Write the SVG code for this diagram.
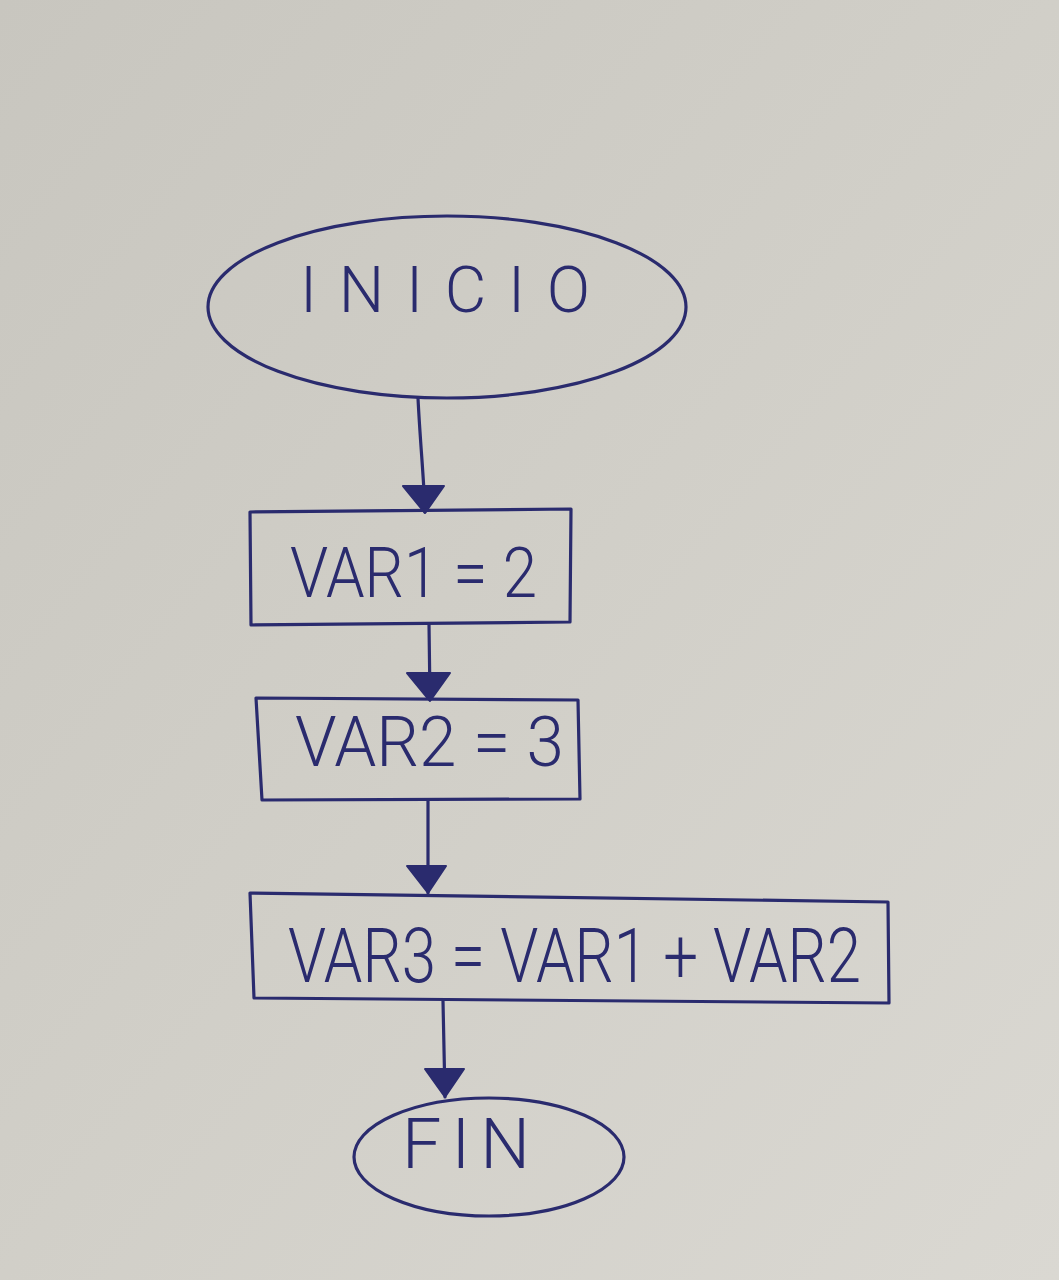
<svg xmlns="http://www.w3.org/2000/svg" width="1059" height="1280" viewBox="0 0 1059 1280">
<defs>
<linearGradient id="paper" x1="0" y1="0" x2="1" y2="1">
<stop offset="0" stop-color="#c8c6bf"/>
<stop offset="0.5" stop-color="#d1cfc8"/>
<stop offset="1" stop-color="#dad8d2"/>
</linearGradient>
<style>
.ink{fill:none;stroke:#2a2b6e;stroke-width:3.2;stroke-linejoin:round;stroke-linecap:round}
.lbl{font-family:Roboto,"Liberation Sans","DejaVu Sans",sans-serif;fill:#2a2b6e;font-weight:300}
.con{fill:none;stroke:#2a2b6e;stroke-width:3.2;stroke-linecap:round}
.head{fill:#2a2b6e;stroke:#2a2b6e;stroke-width:2;stroke-linejoin:round}
</style>
</defs>
<rect width="1059" height="1280" fill="url(#paper)"/>
<g id="connectors">
<path class="con" d="M418,398 C420,440 424,480 425,512"/>
<path class="head" d="M403,486 L444,486 L425,513 Z"/>
<path class="con" d="M429,624 L430,699"/>
<path class="head" d="M407,673 L450,673 L430,701 Z"/>
<path class="con" d="M428,801 L428,893"/>
<path class="head" d="M407,866 L446,866 L428,893 Z"/>
<path class="con" d="M443,1001 L445,1097"/>
<path class="head" d="M425,1069 L464,1069 L445,1097 Z"/>
</g>
<g id="inicio">
<ellipse class="ink" cx="447" cy="307" rx="239" ry="91"/>
<text class="lbl" x="300" y="312" font-size="64" textLength="290" lengthAdjust="spacing">INICIO</text>
</g>
<g id="var1">
<path class="ink" d="M250,512 L571,509 L570,622 L251,625 Z"/>
<text class="lbl" x="290" y="597" font-size="70" textLength="247" lengthAdjust="spacingAndGlyphs">VAR1 = 2</text>
</g>
<g id="var2">
<path class="ink" d="M256,698 L578,700 L580,799 L262,800 Z"/>
<text class="lbl" x="295" y="766" font-size="70" textLength="269" lengthAdjust="spacingAndGlyphs">VAR2 = 3</text>
</g>
<g id="var3">
<path class="ink" d="M250,893 L888,902 L889,1003 L254,998 Z"/>
<text class="lbl" x="288" y="982" font-size="76" textLength="573" lengthAdjust="spacingAndGlyphs">VAR3 = VAR1 + VAR2</text>
</g>
<g id="fin">
<ellipse class="ink" cx="489" cy="1157" rx="135" ry="59"/>
<text class="lbl" x="402" y="1168" font-size="70" textLength="128" lengthAdjust="spacing">FIN</text>
</g>
</svg>
